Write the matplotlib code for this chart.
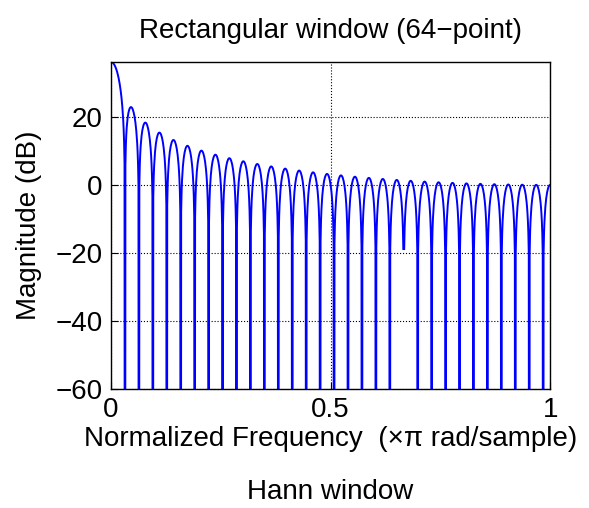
#!/usr/bin/env python3

import numpy as np
import matplotlib.pyplot as plt

# 64-point rectangular window coefficients
window = [1.0] * 64
n_points = 1024          # frequency samples over [0, pi)
freq_scale = 64 / 63     # horizontal scale of the plotted frequency axis
gap_freqs = [21 / 32]    # null where the curve is broken (exact zero)

y_ticks = [-60, -40, -20, 0, 20]
x_ticks = [0, 0.5, 1]
x_tick_labels = ['0', '0.5', '1']

plt.rcParams['font.family'] = ['Liberation Sans', 'DejaVu Sans']


def plot_data():
    # frequency response like freqz(w, 1, n_points)
    h = np.fft.fft(np.array(window), 2 * n_points)[:n_points]
    f = np.arange(n_points) / n_points
    with np.errstate(divide='ignore'):
        mag = 20 * np.log10(np.abs(h))
    # nulls drop far below the axis
    mag[~np.isfinite(mag)] = -300.0
    for g in gap_freqs:
        mag[int(round(g * n_points))] = np.nan

    fig = plt.figure(figsize=(5.89, 5.08), dpi=100)
    ax = fig.add_axes([0.1885, 0.234, 0.7455, 0.644])
    ax.plot(f * freq_scale, mag, color='#0000ff', lw=1.4)
    ax.set_xlim(0, 1)
    ax.set_ylim(-60, np.nanmax(mag))
    ax.set_xticks(x_ticks)
    ax.set_xticklabels(x_tick_labels)
    ax.set_yticks(y_ticks)
    ax.set_yticklabels(['\u221260', '\u221240', '\u221220', '0', '20'])
    ax.grid(True, ls=':', color='k', lw=0.8)
    ax.tick_params(direction='in', length=5, labelsize=20, pad=6)
    for s in ax.spines.values():
        s.set_linewidth(1.0)

    ax.set_title('Rectangular window (64\u2212point)', fontsize=20, pad=17)
    ax.set_ylabel('Magnitude (dB)', fontsize=20, labelpad=10)
    ax.set_xlabel('Normalized Frequency  (\u00d7\u03c0 rad/sample)', fontsize=20, labelpad=2)
    fig.text(0.56, 0.017, 'Hann window', fontsize=20, ha='center')

    fig.savefig('out.png', dpi=100)


plot_data()
